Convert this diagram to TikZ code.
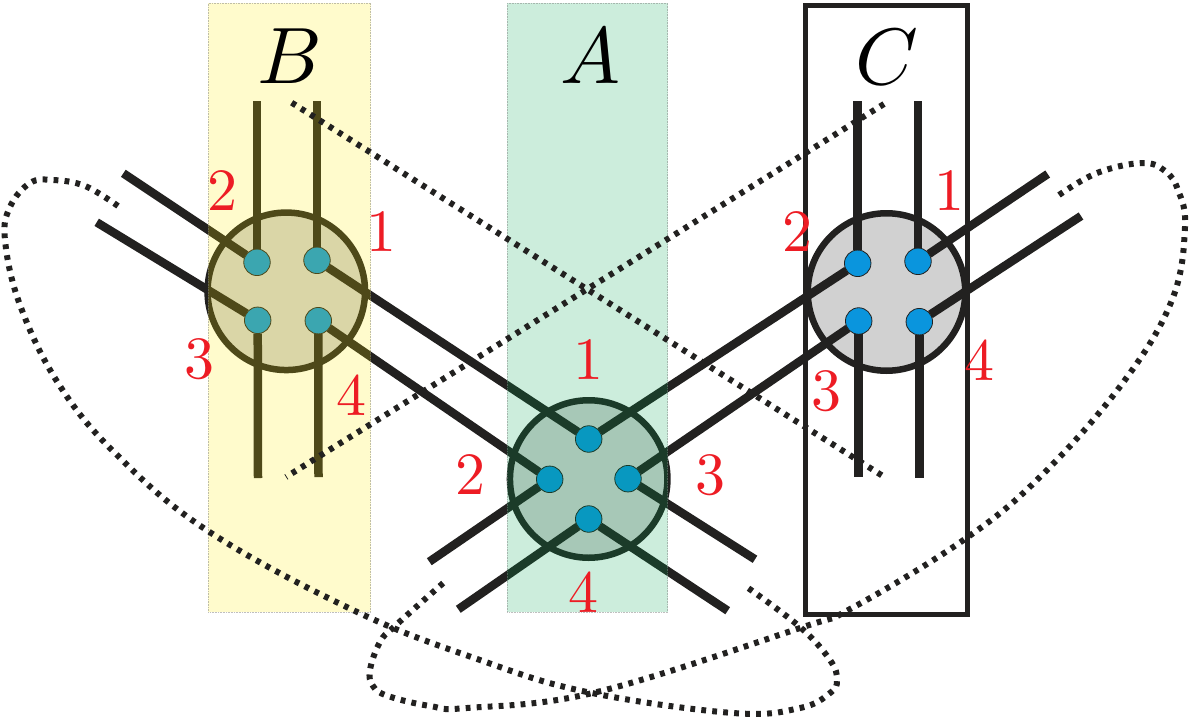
\documentclass[tikz,border=0pt]{standalone}
\usepackage{amsmath}
\usepackage{graphicx}
\usepackage{tikz}
\usetikzlibrary{positioning, shapes.geometric}

\definecolor{inkline}{HTML}{222120}
\definecolor{hubgrey}{HTML}{D1D1D1}
\definecolor{pinblue}{HTML}{0A95DD}
\definecolor{labelred}{HTML}{ED1C24}
\definecolor{bandyellow}{RGB}{255,235,0}
\definecolor{bandgreen}{RGB}{0,165,80}

\begin{document}
\begin{tikzpicture}[x=1pt, y=-1pt,
        hub/.style={draw=inkline, fill=hubgrey, circle, line width=6.5pt, minimum size=157.5pt, inner sep=0pt, outer sep=0pt},
        pin/.style={draw=inkline, fill=pinblue, circle, line width=0.8pt, minimum size=26.5pt, inner sep=0pt, outer sep=0pt},
        wire/.style={draw=inkline, line width=8.5pt},
        dotline/.style={draw=inkline, line width=6pt, dash pattern=on 4.8pt off 6.2pt},
        band/.style={minimum height=609pt, inner sep=0pt, outer sep=0pt, fill opacity=0.2,
                     draw=gray, draw opacity=0.5, line width=0.6pt, densely dotted},
        num/.style={text=labelred, inner sep=0pt},
        letter/.style={text=black, inner sep=0pt}
    ]
        \useasboundingbox (0,0) rectangle (1191,720);

        % hubs
        \node[hub] (hubB) at (286.3,291.3) {};
        \node[hub] (hubA) at (588.7,479) {};
        \node[hub] (hubC) at (886.5,292) {};

        % pins
        \node[pin] (b1) at (317,260.3) {};
        \node[pin] (b2) at (257,262.3) {};
        \node[pin] (b3) at (257.7,320.3) {};
        \node[pin] (b4) at (318.3,320.7) {};
        \node[pin] (a1) at (588.7,439) {};
        \node[pin] (a2) at (549.7,479.3) {};
        \node[pin] (a3) at (628,478.7) {};
        \node[pin] (a4) at (588.7,519) {};
        \node[pin] (c1) at (918,261.3) {};
        \node[pin] (c2) at (857.7,263.3) {};
        \node[pin] (c3) at (858.7,321) {};
        \node[pin] (c4) at (919.3,321.7) {};

        % free wire ends
        \coordinate (bTopL) at (257,101);
        \coordinate (bTopR) at (317,101);
        \coordinate (bLowL) at (258,478);
        \coordinate (bLowR) at (318.5,477);
        \coordinate (bOutU) at (123.3,173.3);
        \coordinate (bOutD) at (96.7,222.3);
        \coordinate (cTopL) at (857.7,101);
        \coordinate (cTopR) at (918,101);
        \coordinate (cLowL) at (858.7,477);
        \coordinate (cLowR) at (919.3,478);
        \coordinate (cOutU) at (1047.7,174);
        \coordinate (cOutD) at (1081,216);
        \coordinate (aOutL) at (429.3,561.7);
        \coordinate (aOutR) at (755,559.3);
        \coordinate (aFootL) at (458.3,609.3);
        \coordinate (aFootR) at (727.7,610.7);

        % wires
        \draw[wire] (b2) -- (bTopL);
        \draw[wire] (b1) -- (bTopR);
        \draw[wire] (b3) -- (bLowL);
        \draw[wire] (b4) -- (bLowR);
        \draw[wire] (b2) -- (bOutU);
        \draw[wire] (b3) -- (bOutD);
        \draw[wire] (c2) -- (cTopL);
        \draw[wire] (c1) -- (cTopR);
        \draw[wire] (c3) -- (cLowL);
        \draw[wire] (c4) -- (cLowR);
        \draw[wire] (c1) -- (cOutU);
        \draw[wire] (c4) -- (cOutD);
        \draw[wire] (b1) -- (a1);
        \draw[wire] (b4) -- (a2);
        \draw[wire] (c2) -- (a1);
        \draw[wire] (c3) -- (a3);
        \draw[wire] (a2) -- (aOutL);
        \draw[wire] (a3) -- (aOutR);
        \draw[wire] (a4) -- (aFootL);
        \draw[wire] (a4) -- (aFootR);

        % bands
        \node[band, fill=bandyellow, minimum width=162.4pt] (bandB) at (289.5,307.7) {};
        \node[band, fill=bandgreen, minimum width=160.4pt] (bandA) at (587.5,307.7) {};
        \node[draw=inkline, line width=5.5pt, minimum width=162pt, minimum height=609pt, inner sep=0pt, outer sep=0pt] (boxC) at (886.5,310) {};

        % dotted legs
        \coordinate (legBs) at (291.7,102.7);
        \coordinate (legBe) at (886,478);
        \coordinate (legCs) at (884,104);
        \coordinate (legCe) at (286,477);
        \draw[dotline] (legBs) -- (legBe);
        \draw[dotline] (legCs) -- (legCe);

        % dotted loops
        \coordinate (loopLs) at (118,206);
        \coordinate (loopLe) at (746.7,587);
        \coordinate (loopRs) at (1059,195);
        \coordinate (loopRe) at (446.7,580);
        \draw[dotline] plot[smooth, tension=0.65] coordinates {(loopLs) (85,186) (53,180) (30,183) (10,207) (5,240) (20,305) (58,383) (115,453) (208,531) (355,611) (480,660) (587,692) (733,713) (800,708) (830,693) (837,680) (830,660) (800,627) (loopLe)};
        \draw[dotline] plot[smooth, tension=0.65] coordinates {(loopRs) (1097,173) (1142,163) (1165,171) (1178,190) (1185,227) (1172,300) (1122.7,383) (1042,475) (965,539) (852,608) (800,628) (597,692) (467,708) (430,706) (388,696) (373,686) (370,670) (380,642) (395,626) (loopRe)};

        % labels
        \node[letter] (labB) at (290,56) {\scalebox{8}{$B$}};
        \node[letter] (labA) at (590,56) {\scalebox{8}{$A$}};
        \node[letter] (labC) at (887,57) {\scalebox{8}{$C$}};
        \node[num] (nb1) at (381,232) {\scalebox{6}{1}};
        \node[num] (nb2) at (222.7,191) {\scalebox{6}{2}};
        \node[num] (nb3) at (199.3,359.5) {\scalebox{6}{3}};
        \node[num] (nb4) at (351.7,395) {\scalebox{6}{4}};
        \node[num] (na1) at (588.7,360) {\scalebox{6}{1}};
        \node[num] (na2) at (470,475) {\scalebox{6}{2}};
        \node[num] (na3) at (710.3,475) {\scalebox{6}{3}};
        \node[num] (na4) at (583.3,592) {\scalebox{6}{4}};
        \node[num] (nc1) at (949.3,191) {\scalebox{6}{1}};
        \node[num] (nc2) at (797.3,232) {\scalebox{6}{2}};
        \node[num] (nc3) at (826.7,391) {\scalebox{6}{3}};
        \node[num] (nc4) at (979.3,360) {\scalebox{6}{4}};
    \end{tikzpicture}
\end{document}
